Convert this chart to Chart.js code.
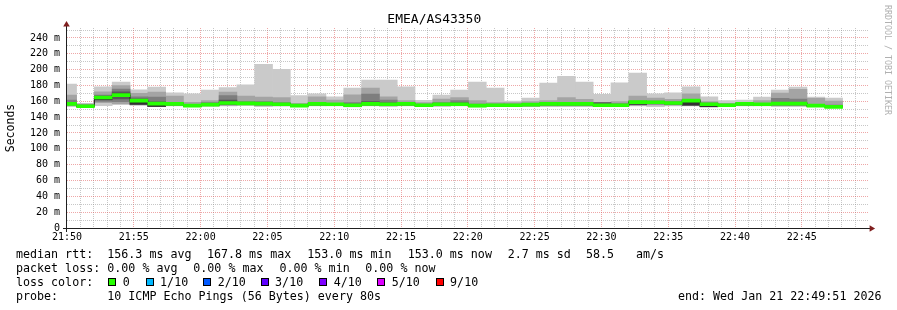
<!DOCTYPE html>
<html>
<head>
<meta charset="utf-8">
<script src="https://cdn.jsdelivr.net/npm/chart.js@4.4.1/dist/chart.umd.min.js"></script>
<style>
html,body{margin:0;padding:0;background:#fff;}
#wrap{position:relative;width:897px;height:310px;overflow:hidden;background:#fff;}
#c{position:absolute;left:0;top:0;}
.t{position:absolute;font-family:'DejaVu Sans Mono',monospace;font-size:11.66px;line-height:14px;white-space:pre;color:#000;}
.box{position:absolute;width:6px;height:6px;border:1px solid #000;}
#wm{position:absolute;left:883px;top:5px;font-family:'DejaVu Sans Mono',monospace;font-size:8.3px;line-height:10px;color:#b0b0b0;writing-mode:vertical-rl;white-space:pre;}
</style>
</head>
<body>
<div id="wrap">
<canvas id="c" width="897" height="310"></canvas>
<div id="wm">RRDTOOL / TOBI OETIKER</div>
</div>
<script>
// ---- data ----
const chartTitle = 'EMEA/AS43350';
// end time of each 80 s step
const sampleTimes = ['21:50:43','21:52:03','21:53:23','21:54:43','21:56:03','21:57:23','21:58:43','22:00:03','22:01:23','22:02:43',
  '22:04:03','22:05:23','22:06:43','22:08:03','22:09:23','22:10:43','22:12:03','22:13:23','22:14:43','22:16:03',
  '22:17:23','22:18:43','22:20:03','22:21:23','22:22:43','22:24:03','22:25:23','22:26:43','22:28:03','22:29:23',
  '22:30:43','22:32:03','22:33:23','22:34:43','22:36:03','22:37:23','22:38:43','22:40:03','22:41:23','22:42:43',
  '22:44:03','22:45:23','22:46:43','22:48:03'];
// sorted ping rtts (ms): outer smoke ... inner smoke, and median
const smokeMax = [181.7,157.5,178.3,184.2,174.6,177.9,170.8,169.6,174.2,177.5,180.8,206.7,200.4,167.1,169.6,165.8,176.7,186.7,186.7,178.3,161.3,167.9,174.2,184.2,176.7,160.4,164.2,182.9,191.7,184.2,168.8,183.3,195.8,169.6,170.8,178.3,165.8,160.8,161.7,165.4,174.2,177.9,165.4,164.2];
const hi2 = [167.9,156.5,172.1,180.0,170.0,171.7,166.7,158.8,160.8,171.7,166.7,165.4,164.6,157.5,165.8,161.7,168.3,176.7,165.8,160.8,158.3,162.9,164.6,160.8,158.3,158.3,159.6,160.8,164.6,162.5,158.8,159.6,166.7,164.2,162.5,169.6,159.6,157.5,158.8,160.8,170.4,175.0,163.8,160.4];
const hi3 = [161.7,155.5,167.9,175.4,165.8,165.4,158.5,156.0,158.5,167.1,159.6,159.6,158.3,156.0,158.3,157.5,158.3,169.2,161.7,158.3,156.5,158.3,160.8,156.5,156.5,156.5,157.5,158.3,158.3,158.3,158.6,157.0,160.4,160.4,159.6,162.5,158.0,156.5,157.5,157.5,163.8,162.9,155.8,155.4];
const hi4 = [158.5,155.0,166.5,172.1,163.0,159.5,157.5,155.5,157.0,161.7,158.5,158.5,157.0,155.5,157.5,157.0,156.5,159.6,158.0,157.5,155.8,157.0,158.0,155.8,155.8,155.8,156.5,157.5,157.5,157.5,158.2,156.0,160.0,159.6,158.5,162.0,157.5,156.0,157.4,157.0,158.3,158.3,155.2,154.5];
const hi5 = [157.3,154.4,165.4,169.6,161.4,157.7,157.3,155.2,156.4,158.5,158.1,157.7,156.8,155.2,157.3,156.8,155.6,157.3,156.8,157.3,155.6,156.8,156.8,155.2,155.6,155.6,156.4,157.3,157.3,157.3,155.6,155.6,159.6,159.3,158.5,161.4,156.9,155.6,157.3,156.8,157.7,157.7,155.1,153.9];
const median = [156.7,153.8,164.8,167.8,160.8,157.1,156.7,154.6,155.8,157.9,157.5,157.1,156.3,154.6,156.7,156.3,155.0,156.7,156.3,156.7,155.0,156.3,156.3,154.6,155.0,155.0,155.8,156.7,156.7,156.7,155.0,155.0,159.0,158.8,157.9,160.8,156.3,155.0,156.7,156.3,157.1,157.1,154.6,153.0];
const lo5 = [156.1,153.5,162.5,166.7,156.3,153.6,156.1,154.0,155.2,157.3,156.9,156.5,155.7,154.0,156.1,155.7,154.4,156.1,155.7,156.1,154.4,155.7,155.7,154.0,154.4,154.4,155.2,156.1,156.1,156.1,154.4,154.4,156.3,158.2,157.3,155.4,153.3,154.4,156.1,155.7,156.5,156.5,154.0,152.9];
const lo4 = [155.8,153.4,161.7,163.0,156.0,153.5,155.5,153.9,154.8,156.0,156.5,156.0,155.5,154.0,155.5,155.5,154.2,155.5,155.5,155.5,154.2,155.5,155.5,153.8,154.2,154.2,154.8,155.5,155.5,155.5,154.2,154.2,156.0,157.5,156.5,155.0,153.2,154.2,155.5,155.5,155.5,155.5,153.9,152.8];
const lo3 = [155.2,153.3,160.0,159.6,155.8,153.4,155.0,153.8,154.5,155.5,156.0,155.0,155.0,153.8,155.0,155.0,153.8,155.0,155.0,155.0,153.8,155.0,155.0,153.5,153.8,153.8,154.2,154.8,154.8,154.8,153.8,153.8,155.5,156.5,155.8,154.8,153.1,153.8,155.0,155.0,155.0,155.0,153.8,152.7];
const lo2 = [154.6,153.2,158.3,157.0,155.5,153.3,154.6,153.5,154.2,155.0,155.5,154.5,154.5,153.5,154.6,154.6,153.5,154.6,154.6,154.6,153.5,154.5,154.6,153.2,153.5,153.5,153.8,154.2,154.2,154.2,153.5,153.5,155.0,155.5,155.0,154.5,153.0,153.5,154.6,154.6,154.6,154.6,153.5,152.6];
const smokeMin = [153.3,153.0,154.6,155.8,155.0,153.2,154.2,153.3,153.8,154.2,154.6,153.3,153.8,153.3,154.2,154.2,153.0,154.2,153.3,154.2,153.3,153.3,154.2,152.9,153.3,153.3,153.3,153.3,153.3,153.3,153.3,153.3,154.2,153.3,154.2,154.2,153.0,153.3,154.2,154.2,153.3,153.3,153.3,152.5];

const timeLabels = ['21:50','21:55','22:00','22:05','22:10','22:15','22:20','22:25','22:30','22:35','22:40','22:45'];
const axisStart = '21:50:00';
const axisSpanSec = 3600;
const stepSec = 80;
const yMaxMs = 252.6;

const lossLabels = ['0','1/10','2/10','3/10','4/10','5/10','9/10'];
const lossColors = ['#26ff00','#00b8ff','#0059ff','#5e00ff','#7e00ff','#dd00ff','#ff0000'];

const statsMedian = ['156.3 ms avg','167.8 ms max','153.0 ms min','153.0 ms now','2.7 ms sd','58.5','am/s'];
const statsLoss = ['0.00 % avg','0.00 % max','0.00 % min','0.00 % now'];
const probeText = '10 ICMP Echo Pings (56 Bytes) every 80s';
const endText = 'end: Wed Jan 21 22:49:51 2026';

// ---- helpers / styles ----
const MONO = "'DejaVu Sans Mono', monospace";
function toSec(s){ const p = s.split(':').map(Number); return p[0]*3600 + p[1]*60 + (p[2]||0); }
const t0 = toSec(axisStart);
const centers = sampleTimes.map(s => toSec(s) - t0 - stepSec/2);

const SMOKE = ['#cacaca','#a4a4a4','#7e7e7e','#585858','#323232'];
const GRID = 'rgba(143,143,143,0.5)';
const MGRID = 'rgba(222,79,79,0.5)';
const NONE = 'rgba(0,0,0,0)';

const datasets = [];
[[smokeMin, smokeMax],[lo2,hi2],[lo3,hi3],[lo4,hi4],[lo5,hi5]].forEach((pair, k) => {
  const lo = pair[0], hi = pair[1];
  datasets.push({
    type: 'bar', label: 'smoke ' + (k+1), xAxisID: 'x', yAxisID: 'y',
    data: lo.map((v,i) => ({x: centers[i], y: [v, hi[i]]})),
    backgroundColor: SMOKE[k], borderWidth: 0, grouped: false,
    barPercentage: 1, categoryPercentage: 1, clip: 0, order: 10 - k
  });
});
datasets.push({
  type: 'line', label: 'median line', xAxisID: 'x', yAxisID: 'y',
  data: median.map((v,i) => ({x: centers[i], y: v})),
  borderColor: '#202020', borderWidth: 1, pointRadius: 0, stepped: 'middle', order: 2
});
const medHalf = 1.9; // half thickness of the loss-coloured median band
datasets.push({
  type: 'bar', label: 'median rtt', xAxisID: 'x', yAxisID: 'y',
  data: median.map((v,i) => ({x: centers[i], y: [v - medHalf, v + medHalf]})),
  backgroundColor: lossColors[0], borderWidth: 0, grouped: false,
  barPercentage: 1, categoryPercentage: 1, clip: 0, order: 1
});

const axesPlugin = {
  id: 'rrdAxes',
  afterDraw(chart){
    const ctx = chart.ctx, a = chart.chartArea;
    const L = Math.round(a.left), B = Math.round(a.bottom), R = a.right, T = Math.round(a.top);
    ctx.save();
    ctx.fillStyle = '#1f1f1f';
    ctx.fillRect(L - 1, T - 2, 1, B - T + 6);
    ctx.fillRect(L - 4, B, R - L + 6, 1);
    ctx.fillStyle = '#801f1f';
    ctx.beginPath();
    ctx.moveTo(L - 0.5, T - 7); ctx.lineTo(L - 3.8, T - 1.5); ctx.lineTo(L + 2.8, T - 1.5); ctx.closePath(); ctx.fill();
    ctx.beginPath();
    ctx.moveTo(R + 6.5, B + 0.5); ctx.lineTo(R + 1, B - 2.8); ctx.lineTo(R + 1, B + 3.8); ctx.closePath(); ctx.fill();
    ctx.restore();
  }
};

new Chart(document.getElementById('c'), {
  type: 'bar',
  data: { datasets },
  plugins: [axesPlugin],
  options: {
    responsive: false, animation: false, devicePixelRatio: 1,
    layout: { padding: { left: 0, right: 28.4, top: 0, bottom: 0 } },
    plugins: {
      legend: { display: false },
      tooltip: { enabled: false },
      title: { display: true, text: chartTitle, color: '#000',
        font: { family: MONO, size: 13, weight: 'normal' }, padding: { top: 12, bottom: 0.4 } }
    },
    scales: {
      x: {
        type: 'linear', position: 'bottom', min: 0, max: axisSpanSec, offset: false, z: 1,
        grid: { offset: false, drawTicks: false, lineWidth: 1,
          color: c => { const v = c.tick ? c.tick.value : 0; if (v <= 0 || v >= axisSpanSec) return NONE; return MGRID; } },
        border: { display: false, dash: [1,1] },
        ticks: { stepSize: 300, autoSkip: false, maxRotation: 0, minRotation: 0, maxTicksLimit: 1000,
          padding: 3, color: '#000', font: { family: MONO, size: 10 },
          callback: v => (v % 300 === 0 && v/300 < timeLabels.length) ? timeLabels[v/300] : '' },
        afterFit: s => { s.height = 82; }
      },
      // minute grid only (own axis so bar widths follow the 80 s samples)
      xMinor: {
        type: 'linear', position: 'bottom', min: 0, max: axisSpanSec, offset: false, z: 1,
        grid: { offset: false, drawTicks: false, lineWidth: 1,
          color: c => { const v = c.tick ? c.tick.value : 0; if (v <= 0 || v >= axisSpanSec || v % 300 === 0) return NONE; return GRID; } },
        border: { display: false, dash: [1,1] },
        ticks: { display: false, stepSize: 60, autoSkip: false, maxTicksLimit: 1000 },
        afterFit: s => { s.height = 0; }
      },
      y: {
        type: 'linear', min: 0, max: yMaxMs, z: 1,
        grid: { drawTicks: false, lineWidth: 1,
          color: c => { const v = c.tick ? c.tick.value : 0; if (v <= 0) return NONE; return v % 20 === 0 ? MGRID : GRID; } },
        border: { display: false, dash: [1,1] },
        ticks: { stepSize: 10, includeBounds: false, maxTicksLimit: 1000, autoSkip: false,
          padding: 7, color: '#000', font: { family: MONO, size: 10 },
          callback: v => v % 20 === 0 ? (v === 0 ? '0' : v + ' m') : '' },
        title: { display: true, text: 'Seconds', color: '#000',
          font: { family: MONO, size: 11.5 }, padding: { top: 4.4, bottom: 0 } },
        afterFit: s => { s.width = 67; }
      }
    }
  }
});

// ---- text legend below the graph ----
const wrap = document.getElementById('wrap');
function txt(x, y, s){ const d = document.createElement('div'); d.className = 't'; d.style.left = x + 'px'; d.style.top = y + 'px'; d.textContent = s; wrap.appendChild(d); return d; }
const rowTop = [246.7, 261.3, 275.3, 289];
txt(16, rowTop[0], 'median rtt:');
[107.3, 207, 307.3, 407.7, 507.7, 586, 636].forEach((x,i) => txt(x, rowTop[0], statsMedian[i]));
txt(16, rowTop[1], 'packet loss:');
[107.3, 193.3, 279.5, 365.3].forEach((x,i) => txt(x, rowTop[1], statsLoss[i]));
txt(16, rowTop[2], 'loss color:');
[108.3, 145.7, 203.3, 260.7, 319.3, 377.3, 435.7].forEach((x,i) => {
  const b = document.createElement('div'); b.className = 'box';
  b.style.left = x + 'px'; b.style.top = '278.3px'; b.style.background = lossColors[i];
  wrap.appendChild(b);
  txt(x + 14.4, rowTop[2], lossLabels[i]);
});
txt(16, rowTop[3], 'probe:');
txt(107.3, rowTop[3], probeText);
const e = txt(0, rowTop[3], endText); e.style.left = 'auto'; e.style.right = '15.5px';
</script>
</body>
</html>
